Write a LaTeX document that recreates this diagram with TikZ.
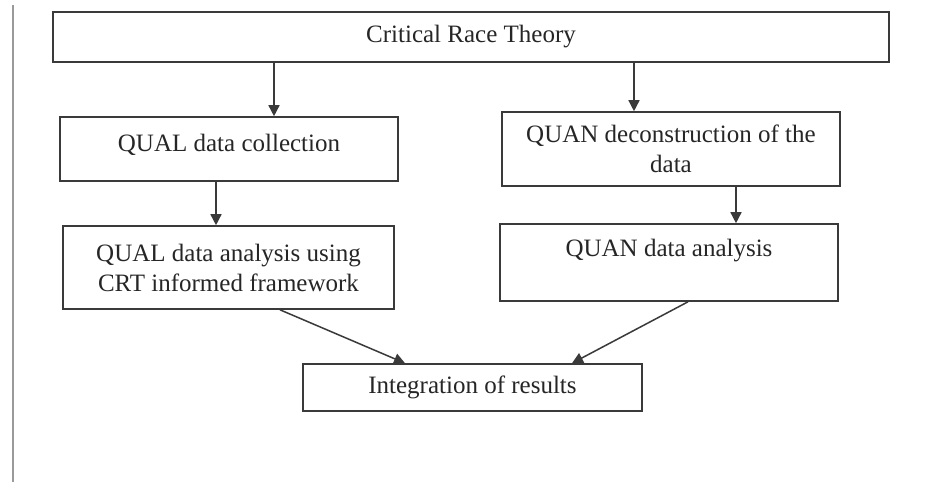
\documentclass[tikz,border=0pt]{standalone}
\usepackage{fontspec}
\setmainfont{Liberation Serif}
\usetikzlibrary{arrows.meta}
\definecolor{boxline}{HTML}{3A3A3A}
\definecolor{txt}{HTML}{262626}
\definecolor{sidebar}{HTML}{9A9A9A}
\begin{document}
\begin{tikzpicture}[x=1pt,y=-1pt,
  box/.style={draw=boxline, line width=1.6pt, rectangle, inner sep=0pt, align=center,
    text=txt, font=\fontsize{25}{30}\selectfont},
  arr/.style={draw=boxline, line width=1.5pt, -{Triangle[width=11pt,length=11pt]}}]
\useasboundingbox (0,0) rectangle (937,482);
\fill[white] (0,0) rectangle (937,482);
\coordinate (bartop) at (13,5);
\coordinate (barbot) at (13,482);
\draw[sidebar, line width=2.2pt] (bartop) -- (barbot);

\node[box, minimum width=836pt, minimum height=50pt] (crt) at (471,37) {Critical Race Theory};
\node[box, minimum width=338pt, minimum height=64pt, text depth=12pt] (qc) at (229,149) {QUAL data collection};
\node[box, minimum width=338pt, minimum height=74pt] (qd) at (671,149) {QUAN deconstruction of the\\ data};
\node[box, minimum width=331pt, minimum height=83pt] (qa1) at (228.5,267.5) {QUAL data analysis using\\ CRT informed framework};
\node[box, minimum width=338pt, minimum height=77pt] (qa2) at (669,262.5) {QUAN data analysis\\ \mbox{}};
\node[box, minimum width=339pt, minimum height=47pt] (int) at (472.5,387.5) {Integration of results};

\draw[arr] (274,0 |- crt.south) -- (274,0 |- qc.north);
\draw[arr] (634,0 |- crt.south) -- (634,0 |- qd.north);
\draw[arr] (216,0 |- qc.south) -- (216,0 |- qa1.north);
\draw[arr] (736,0 |- qd.south) -- (736,0 |- qa2.north);
\draw[arr] (280,0 |- qa1.south) -- (405,0 |- int.north);
\draw[arr] (688,0 |- qa2.south) -- (572,0 |- int.north);
\end{tikzpicture}
\end{document}
